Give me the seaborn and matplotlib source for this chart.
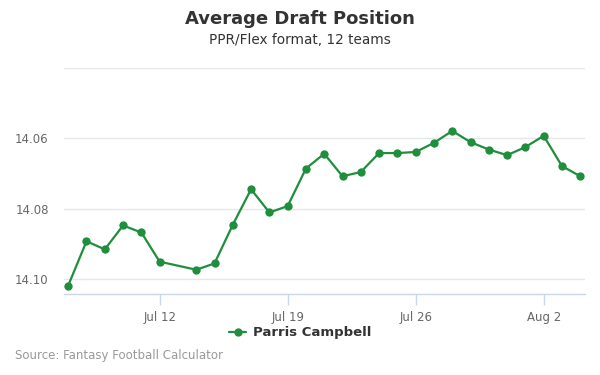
import pandas as pd
import matplotlib.pyplot as plt
import seaborn as sns

dates = [
    "2019-07-07", "2019-07-08", "2019-07-09", "2019-07-10", "2019-07-11",
    "2019-07-12", "2019-07-14", "2019-07-15", "2019-07-16", "2019-07-17",
    "2019-07-18", "2019-07-19", "2019-07-20", "2019-07-21", "2019-07-22",
    "2019-07-23", "2019-07-24", "2019-07-25", "2019-07-26", "2019-07-27",
    "2019-07-28", "2019-07-29", "2019-07-30", "2019-07-31", "2019-08-01",
    "2019-08-02", "2019-08-03", "2019-08-04",
]
adp = [
    14.1019, 14.0893, 14.0916, 14.0848, 14.0868,
    14.0951, 14.0974, 14.0956, 14.0846, 14.0745,
    14.0811, 14.0793, 14.0686, 14.0644, 14.0708,
    14.0696, 14.0642, 14.0642, 14.0639, 14.0613,
    14.0579, 14.0611, 14.0632, 14.0648, 14.0625,
    14.0593, 14.0679, 14.0708,
]
player = "Parris Campbell"

tick_dates = ["2019-07-12", "2019-07-19", "2019-07-26", "2019-08-02"]
tick_labels = ["Jul 12", "Jul 19", "Jul 26", "Aug 2"]
y_ticks = [14.04, 14.06, 14.08, 14.10]
y_labels = ["", "14.06", "14.08", "14.10"]

df = pd.DataFrame({"date": pd.to_datetime(dates), "adp": adp})

sns.set_style("white")
plt.rcParams["font.family"] = ["DejaVu Sans"]

green = "#1f8e3d"
fig = plt.figure(figsize=(6, 3.75), dpi=100)
ax = fig.add_axes([0.1067, 0.216, 0.868, 0.6027])

sns.lineplot(data=df, x="date", y="adp", ax=ax, color=green, marker="o",
             markersize=6, markeredgewidth=0, linewidth=1.6, label=player,
             legend=False)

ax.set_xlim(pd.Timestamp("2019-07-06 18:30"), pd.Timestamp("2019-08-04 06:00"))
ax.set_ylim(14.1043, 14.04)
ax.set_yticks(y_ticks)
ax.set_yticklabels(y_labels)
ax.set_xticks(pd.to_datetime(tick_dates))
ax.set_xticklabels(tick_labels)
ax.set_xlabel("")
ax.set_ylabel("")

ax.grid(axis="y", color="#e6e6e6", linewidth=1)
ax.grid(axis="x", visible=False)
for side in ["top", "right", "left"]:
    ax.spines[side].set_visible(False)
ax.spines["bottom"].set_color("#ccd6eb")
ax.spines["bottom"].set_linewidth(1)
ax.tick_params(axis="x", colors="#ccd6eb", length=8, width=1, labelcolor="#666666",
               labelsize=8.5, pad=4, bottom=True)
ax.tick_params(axis="y", length=0, labelcolor="#666666", labelsize=8.5, pad=11)

fig.text(0.5, 0.948, "Average Draft Position", ha="center", va="center",
         fontsize=13, fontweight="bold", color="#333333")
fig.text(0.5, 0.893, "PPR/Flex format, 12 teams", ha="center", va="center",
         fontsize=9.8, color="#333333")
fig.text(0.025, 0.053, "Source: Fantasy Football Calculator", ha="left",
         va="center", fontsize=8.5, color="#999999")

handles, labels = ax.get_legend_handles_labels()
leg = fig.legend(handles, labels, loc="center", bbox_to_anchor=(0.5, 0.113),
                 frameon=False, handlelength=1.3, handletextpad=0.5,
                 prop={"weight": "bold", "size": 9.5})
for t in leg.get_texts():
    t.set_color("#333333")

fig.savefig("out.png", dpi=100)
